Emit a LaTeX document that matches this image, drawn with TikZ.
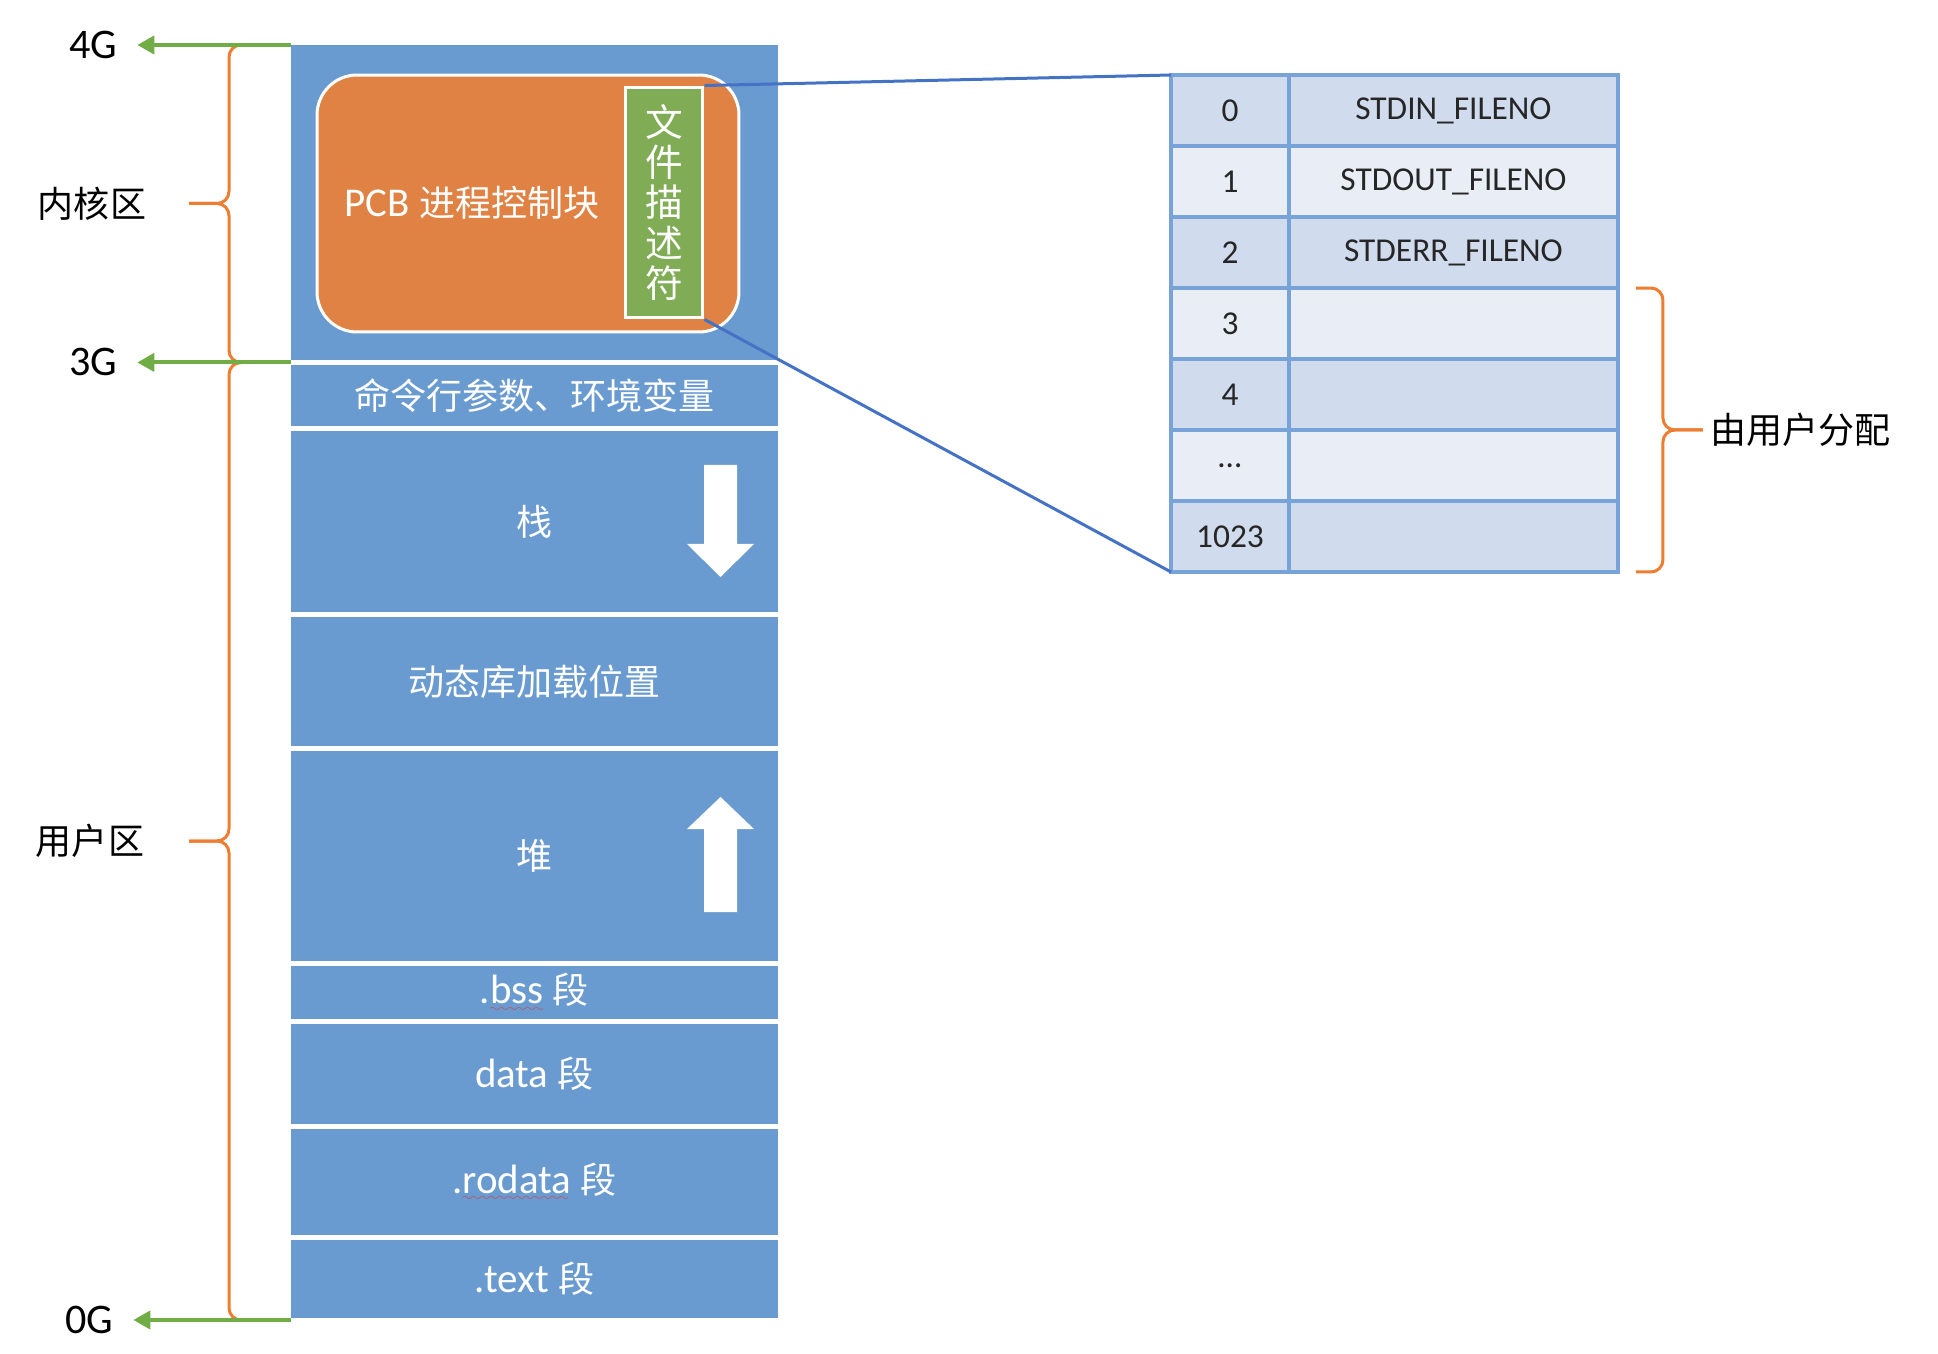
\documentclass[tikz,border=0pt]{standalone}
\usepackage{fontspec}
\setmainfont{Carlito}
\newfontfamily\zhfont[Scale=0.88]{Noto Sans CJK SC}
\newcommand\zh[1]{{\zhfont #1}}
\usetikzlibrary{positioning, calc, arrows.meta}

\definecolor{memblue}{HTML}{6A9BD0}
\definecolor{pcborange}{HTML}{E08244}
\definecolor{fdgreen}{HTML}{7FAC55}
\definecolor{tickgreen}{HTML}{70AD47}
\definecolor{braceorange}{HTML}{ED7D31}
\definecolor{linkblue}{HTML}{4472C4}
\definecolor{gridblue}{HTML}{78A3D8}
\definecolor{rowdark}{HTML}{D0DBED}
\definecolor{rowlight}{HTML}{E9EEF6}
\definecolor{spellred}{HTML}{D93A3A}

% red wavy underline
\font\wavefont=lasy6
\newcommand\typo[1]{\setbox0\hbox{#1}\rlap{\lower4.5pt\hbox to\wd0{\color{spellred}\leaders\hbox{\wavefont\char58}\hfil}}\box0\relax}

\begin{document}
\begin{tikzpicture}[x=0.02cm, y=-0.02cm, node distance=0.1cm,
	seg/.style={fill=memblue, minimum width=9.74cm, inner sep=0pt, outer sep=0pt, text=white, font=\fontsize{23.3}{28}\selectfont},
	tick/.style={draw=tickgreen, line width=0.08cm, -{Triangle[length=0.34cm,width=0.36cm]}},
	curly/.style={draw=braceorange, line width=0.06cm, rounded corners=0.24cm},
	link/.style={draw=linkblue, line width=0.06cm},
	axis/.style={font=\fontsize{24}{28}\selectfont, inner sep=0.4cm},
	side/.style={font=\fontsize{23.3}{28}\selectfont},
	cell/.style={draw=gridblue, line width=0.08cm, minimum height=1.42cm, inner sep=0pt, outer sep=0pt, text=black!85, font=\fontsize{19}{22}\selectfont}]
	\useasboundingbox (0,0) rectangle (1938,1354);

	% memory column
	\node[seg, anchor=north west, minimum height=6.3cm] (kernel) at (291,45) {};
	\node[seg, below=of kernel, minimum height=1.22cm] (args) {\zh{命令行参数、环境变量}};
	\node[seg, below=of args, minimum height=3.62cm] (stack) {\zh{栈}};
	\node[seg, below=of stack, minimum height=2.58cm] (dynlib) {\zh{动态库加载位置}};
	\node[seg, below=of dynlib, minimum height=4.2cm] (heap) {\zh{堆}};
	\node[seg, below=of heap, minimum height=1.06cm] (bss) {.\typo{bss} \zh{段}};
	\node[seg, below=of bss, minimum height=2.0cm] (data) {data \zh{段}};
	\node[seg, below=of data, minimum height=2.12cm] (rodata) {.\typo{rodata} \zh{段}};
	\node[seg, below=of rodata, minimum height=1.56cm] (textseg) {.text \zh{段}};

	\fill[white] (704,465) -- (737,465) -- (737,544) -- (754,544) -- (720.5,577) -- (687,544) -- (704,544) -- cycle;
	\fill[white] (704,912) -- (737,912) -- (737,829) -- (754,829) -- (720.5,797) -- (687,829) -- (704,829) -- cycle;

	% PCB
	\node[fill=pcborange, draw=white, line width=0.06cm, rounded corners=0.8cm, minimum width=8.44cm, minimum height=5.14cm] (pcb) at (528,203.5) {};
	\node[text=white, font=\fontsize{23.3}{28}\selectfont] (pcbname) at (472,203) {PCB \zh{进程控制块}};
	\node[fill=fdgreen, draw=white, line width=0.06cm, minimum width=1.56cm, minimum height=4.62cm, align=center, text=white, font=\fontsize{24.4}{22.8}\selectfont\zhfont] (fd) at (664,202.5) {文\\件\\描\\述\\符};

	% addresses
	\coordinate (split) at ($(kernel.south west)!0.5!(args.north west)$);
	\node[axis] (g4) at (93,45) {4G};
	\node[axis] (g3) at (split -| g4) {3G};
	\node[axis] (g0) at (89,1320) {0G};
	\draw[curly] (246,45) -| (229,203.5) -- (189,203.5);
	\draw[curly] (246,362.5) -| (229,203.5) -- (189,203.5);
	\draw[curly] (246,362.5) -| (229,841) -- (189,841);
	\draw[curly] (246,1320) -| (229,841) -- (189,841);
	\node[side] (kern) at (92,203.5) {\zh{内核区}};
	\node[side] (user) at (90,841) {\zh{用户区}};
	\draw[tick] (kernel.north west) -- (g4);
	\draw[tick] (split) -- (g3);
	\draw[tick] (291,1320) -- (g0);

	% fd table
	\foreach \i/\num/\fdname/\rowfill in {0/0/STDIN\_FILENO/rowdark, 1/1/STDOUT\_FILENO/rowlight, 2/2/STDERR\_FILENO/rowdark, 3/3//rowlight, 4/4//rowdark, 5/\ldots//rowlight, 6/1023//rowdark}{
		\node[cell, fill=\rowfill, minimum width=2.36cm] (n\i) at (1230,110.5+71*\i) {\num};
		\node[cell, fill=\rowfill, minimum width=6.58cm, right=0pt of n\i] (s\i) {\fdname};
	}
	\draw[link] (fd.north east) -- (n0.north west);
	\draw[link] (fd.south east) -- (n6.south west);

	\coordinate (allocmid) at ($(s3.north east)!0.5!(s6.south east)$);
	\draw[curly] ($(s3.north east)+(18,0)$) -| ($(allocmid)+(45,0)$) -- ($(allocmid)+(85,0)$);
	\draw[curly] ($(s6.south east)+(18,0)$) -| ($(allocmid)+(45,0)$) -- ($(allocmid)+(85,0)$);
	\node[side, anchor=west] (alloc) at ($(allocmid)+(86,0)$) {\zh{由用户分配}};
\end{tikzpicture}
\end{document}
